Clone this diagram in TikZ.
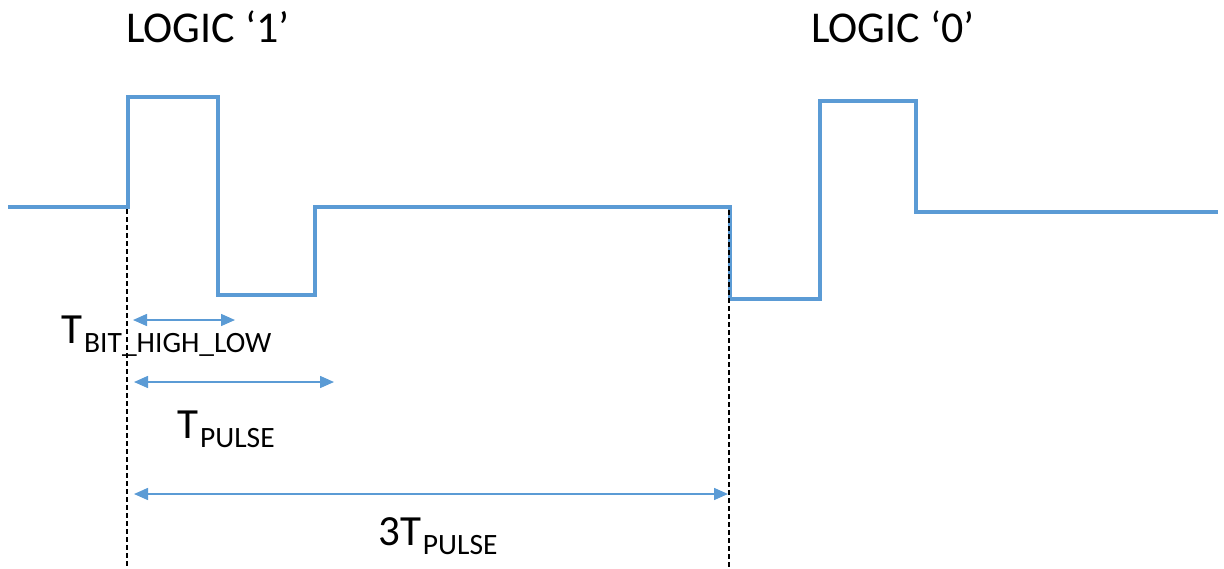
\documentclass[tikz,border=0pt]{standalone}
\usepackage{fontspec}
\setmainfont{Carlito}
\usetikzlibrary{arrows.meta}
\definecolor{sig}{HTML}{5B9BD5}
\tikzset{
  wave/.style={draw=sig, line width=4pt, line join=miter},
  guide/.style={draw=black, line width=1.3pt, dash pattern=on 5pt off 3pt},
  dim/.style={draw=sig, line width=1.5pt, {Triangle[length=14pt,width=12pt]}-{Triangle[length=14pt,width=12pt]}},
  big/.style={font=\fontsize{44}{50}\selectfont, inner sep=0pt},
  lab/.style={font=\fontsize{43}{48}\selectfont, inner sep=0pt},
}
\newcommand{\subtxt}[1]{\kern2pt\raisebox{-9pt}{\fontsize{29.5}{32}\selectfont #1}}
\begin{document}
\begin{tikzpicture}[x=1pt,y=-1pt]
\useasboundingbox (0,0) rectangle (1224,568);
% waveform
\coordinate (w0) at (8,207);
\coordinate (w1) at (1218,212);
\draw[wave] (w0) -- (127.5,207) -- (127.5,97) -- (218,97) -- (218,295) -- (315,295) -- (315,207)
  -- (730,207) -- (730,298.5) -- (819.5,298.5) -- (819.5,101) -- (915.5,101) -- (915.5,212) -- (w1);
% guides
\coordinate (g1t) at (127,209);
\coordinate (g1b) at (127,568);
\coordinate (g2t) at (729,210);
\coordinate (g2b) at (729,568);
\draw[guide] (g1t) -- (g1b);
\draw[guide] (g2t) -- (g2b);
% dimension arrows
\coordinate (a1l) at (133,320);
\coordinate (a1r) at (235,320);
\coordinate (a2l) at (134,382);
\coordinate (a2r) at (334,382);
\coordinate (a3l) at (134,494);
\coordinate (a3r) at (728,494);
\draw[dim] (a1l) -- (a1r);
\draw[dim] (a2l) -- (a2r);
\draw[dim] (a3l) -- (a3r);
% labels
\node[big, anchor=base west] (l1) at (126,42) {LOGIC ‘1’};
\node[big, anchor=base west] (l0) at (811,42) {LOGIC ‘0’};
\node[lab, anchor=base west] (tb) at (61,343) {T\subtxt{BIT\_HIGH\_LOW}};
\node[lab, anchor=base west] (tp) at (177,438) {T\subtxt{PULSE}};
\node[lab, anchor=base west] (t3) at (378,545) {3T\subtxt{PULSE}};
\end{tikzpicture}
\end{document}
